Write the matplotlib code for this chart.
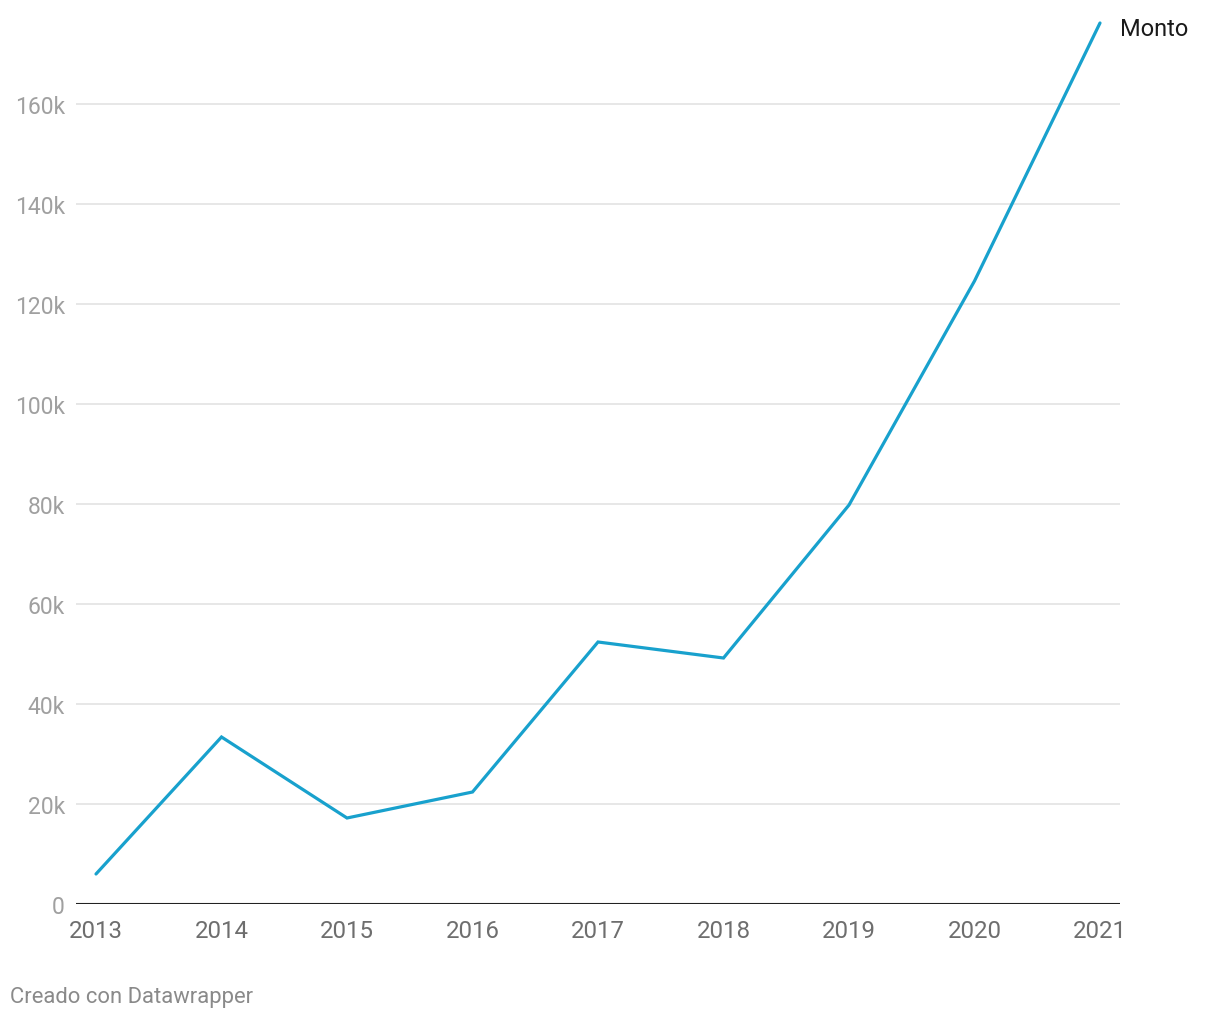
import matplotlib.pyplot as plt
from matplotlib.ticker import FuncFormatter

plt.rcParams['font.family'] = ['Roboto', 'DejaVu Sans']

years = [2013, 2014, 2015, 2016, 2017, 2018, 2019, 2020, 2021]
monto = [6000, 33400, 17200, 22400, 52400, 49200, 79800, 124600, 176200]
yticks = [0, 20000, 40000, 60000, 80000, 100000, 120000, 140000, 160000]

fig = plt.figure(figsize=(12.2, 10.2), dpi=100)
ax = fig.add_axes([76 / 1220, 115 / 1020, (1120 - 76) / 1220, 900 / 1020])

ax.plot(years, monto, color='#18a1cd', linewidth=2.3, solid_capstyle='round',
        solid_joinstyle='miter', zorder=3, clip_on=False)

ax.set_xlim(2013 - 20 / 125.5, 2021 + 20 / 125.5)
ax.set_ylim(0, 180000)
ax.set_yticks(yticks)
ax.set_xticks(years)
ax.yaxis.set_major_formatter(FuncFormatter(lambda v, p: '0' if v == 0 else f'{int(v / 1000)}k'))

for y in yticks[1:]:
    ax.axhline(y, color='#e3e3e3', linewidth=1.2, zorder=1)
ax.axhline(0, color='#222222', linewidth=1.5, zorder=2)

for s in ax.spines.values():
    s.set_visible(False)
ax.tick_params(axis='y', length=0, pad=8, labelsize=16.5, labelcolor='#a0a0a0')
ax.tick_params(axis='x', length=0, pad=11, labelsize=17.3, labelcolor='#6e6e6e')
for lbl in ax.get_yticklabels():
    lbl.set_horizontalalignment('right')

ax.text(2021 + 20 / 125.5, 175200, 'Monto', fontsize=17, color='#1a1a1a',
        ha='left', va='center', clip_on=False)

fig.text(10 / 1220, 1 - 998 / 1020, 'Creado con Datawrapper', fontsize=15.8,
         color='#8a8a8a', ha='left', va='center')

fig.savefig('out.png', dpi=100)
